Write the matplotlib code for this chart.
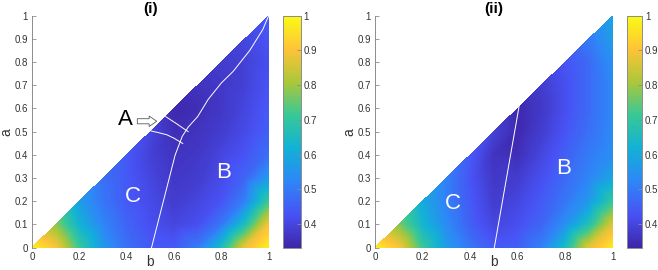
import matplotlib
matplotlib.use('Agg')
import matplotlib.pyplot as plt
import matplotlib.tri as mtri
import numpy as np
from matplotlib.colors import LinearSegmentedColormap, Normalize
from matplotlib.cm import ScalarMappable
from matplotlib.patches import FancyArrow
from matplotlib.ticker import FuncFormatter, FixedLocator, FixedFormatter

plt.rcParams['font.family'] = ['Liberation Sans', 'DejaVu Sans']

# grid levels (a rows, b columns); each row holds values for b >= a
grid = [0.0, 0.1, 0.2, 0.3, 0.4, 0.5, 0.6, 0.7, 0.8, 0.9, 1.0]

vals_i = [
    [0.98, 0.90, 0.71, 0.56, 0.48, 0.44, 0.44, 0.50, 0.65, 0.88, 0.98],
    [0.78, 0.62, 0.52, 0.46, 0.42, 0.40, 0.42, 0.49, 0.66, 0.89],
    [0.57, 0.49, 0.44, 0.41, 0.38, 0.40, 0.43, 0.51, 0.71],
    [0.48, 0.44, 0.40, 0.37, 0.38, 0.41, 0.46, 0.56],
    [0.44, 0.39, 0.36, 0.37, 0.40, 0.43, 0.48],
    [0.40, 0.35, 0.36, 0.38, 0.41, 0.45],
    [0.34, 0.35, 0.37, 0.40, 0.44],
    [0.36, 0.37, 0.39, 0.43],
    [0.38, 0.39, 0.42],
    [0.40, 0.43],
    [0.44],
]

vals_ii = [
    [0.98, 0.90, 0.71, 0.57, 0.49, 0.44, 0.45, 0.51, 0.65, 0.87, 0.97],
    [0.77, 0.63, 0.53, 0.45, 0.40, 0.42, 0.46, 0.54, 0.67, 0.86],
    [0.60, 0.51, 0.44, 0.38, 0.40, 0.44, 0.49, 0.56, 0.70],
    [0.51, 0.43, 0.37, 0.38, 0.42, 0.47, 0.52, 0.59],
    [0.44, 0.36, 0.35, 0.40, 0.45, 0.50, 0.54],
    [0.39, 0.34, 0.38, 0.43, 0.48, 0.53],
    [0.34, 0.37, 0.42, 0.47, 0.53],
    [0.38, 0.42, 0.47, 0.53],
    [0.43, 0.47, 0.54],
    [0.50, 0.57],
    [0.59],
]

# region boundaries (b, a)
bc_line_i_b = [0.505, 0.53, 0.555, 0.58, 0.605, 0.635, 0.66, 0.70, 0.745, 0.80, 0.85, 0.92, 0.975, 1.0]
bc_line_i_a = [0.0, 0.1, 0.2, 0.3, 0.4, 0.48, 0.52, 0.565, 0.64, 0.71, 0.76, 0.85, 0.94, 1.0]
a_upper_b = [0.565, 0.61, 0.66]
a_upper_a = [0.565, 0.535, 0.50]
a_lower_b = [0.503, 0.53, 0.569, 0.60, 0.637]
a_lower_a = [0.503, 0.497, 0.487, 0.472, 0.449]
bc_line_ii_b = [0.502, 0.606]
bc_line_ii_a = [0.0, 0.608]

cbar_ticks = [0.4, 0.5, 0.6, 0.7, 0.8, 0.9, 1.0]
cbar_labels = ['0.4', '0.5', '0.6', '0.7', '0.8', '0.9', '1']

parula = LinearSegmentedColormap.from_list('parula', [
    (0 / 7, (0.2422, 0.1504, 0.6603)),
    (1 / 7, (0.2810, 0.3228, 0.9579)),
    (2 / 7, (0.1786, 0.5289, 0.9682)),
    (3 / 7, (0.0689, 0.6948, 0.8394)),
    (4 / 7, (0.2161, 0.7843, 0.5923)),
    (5 / 7, (0.6720, 0.7793, 0.2227)),
    (6 / 7, (0.9970, 0.7659, 0.2199)),
    (7 / 7, (0.9769, 0.9839, 0.0805)),
])
vmin, vmax = 0.332, 1.0
norm = Normalize(vmin, vmax)
levels = np.linspace(vmin, vmax, 241)

fig = plt.figure(figsize=(6.58, 2.70), dpi=100)

axes_pos = [[0.0486, 0.0826, 0.3597, 0.8593], [0.5699, 0.0826, 0.3612, 0.8593]]
cbar_pos = [[0.4306, 0.0826, 0.0264, 0.8593], [0.9524, 0.0826, 0.0237, 0.8593]]
titles = ['(i)', '(ii)']
spine_col = '0.55'
text_col = '0.2'


def style_axes(ax):
    for s in ['top', 'right', 'bottom']:
        ax.spines[s].set_visible(False)
    ax.spines['left'].set_color(spine_col)
    ax.spines['left'].set_linewidth(0.7)
    ax.set_xlim(0, 1)
    ax.set_ylim(0, 1)
    ax.set_xticks([0, 0.2, 0.4, 0.6, 0.8, 1.0])
    ax.set_yticks(grid)
    ax.xaxis.set_major_formatter(FuncFormatter(lambda v, p: '%g' % round(v, 2)))
    ax.yaxis.set_major_formatter(FuncFormatter(lambda v, p: '%g' % round(v, 2)))
    ax.tick_params(direction='in', length=3, width=0.6, color=spine_col,
                   labelsize=7, labelcolor=text_col, pad=3)
    ax.tick_params(axis='x', length=0, pad=3)
    ax.set_xlabel('b', fontsize=10, color=text_col, labelpad=-5)
    ax.set_ylabel('a', fontsize=10, color=text_col, labelpad=1)


for k, vals in enumerate([vals_i, vals_ii]):
    pb, pa, pv = [], [], []
    for r, row in enumerate(vals):
        for j, v in enumerate(row):
            pb.append(grid[r + j])
            pa.append(grid[r])
            pv.append(v)
    ax = fig.add_axes(axes_pos[k])
    tri = mtri.Triangulation(pb, pa)
    ax.tricontourf(tri, pv, levels=levels, cmap=parula, norm=norm, extend='both',
                   antialiased=False)
    style_axes(ax)
    ax.set_title(titles[k], fontsize=11, fontweight='bold', pad=2)

    cax = fig.add_axes(cbar_pos[k])
    cb = fig.colorbar(ScalarMappable(norm=norm, cmap=parula), cax=cax)
    cb.locator = FixedLocator(cbar_ticks)
    cb.formatter = FixedFormatter(cbar_labels)
    cb.update_ticks()
    cb.outline.set_edgecolor(spine_col)
    cb.outline.set_linewidth(0.7)
    cax.tick_params(direction='in', length=3, width=0.6, color=spine_col,
                    labelsize=7, labelcolor=text_col, pad=2)

    if k == 0:
        ax.plot(bc_line_i_b, bc_line_i_a, color='white', lw=0.7)
        ax.plot(a_upper_b, a_upper_a, color='white', lw=0.7)
        ax.plot(a_lower_b, a_lower_a, color='white', lw=0.7)
        ax.text(0.808, 0.322, 'B', color='white', fontsize=16, ha='center', va='center')
        ax.text(0.425, 0.221, 'C', color='white', fontsize=16, ha='center', va='center')
        ax.text(0.393, 0.552, 'A', color='black', fontsize=16, ha='center', va='center')
        ax.add_patch(FancyArrow(0.445, 0.545, 0.05, 0, width=0.022, head_width=0.045,
                                head_length=0.032, length_includes_head=False,
                                fc='white', ec='0.35', lw=0.6, zorder=5))
    else:
        ax.plot(bc_line_ii_b, bc_line_ii_a, color='white', lw=0.7)
        ax.text(0.792, 0.342, 'B', color='white', fontsize=16, ha='center', va='center')
        ax.text(0.326, 0.191, 'C', color='white', fontsize=16, ha='center', va='center')

fig.savefig('out.png', dpi=100)
